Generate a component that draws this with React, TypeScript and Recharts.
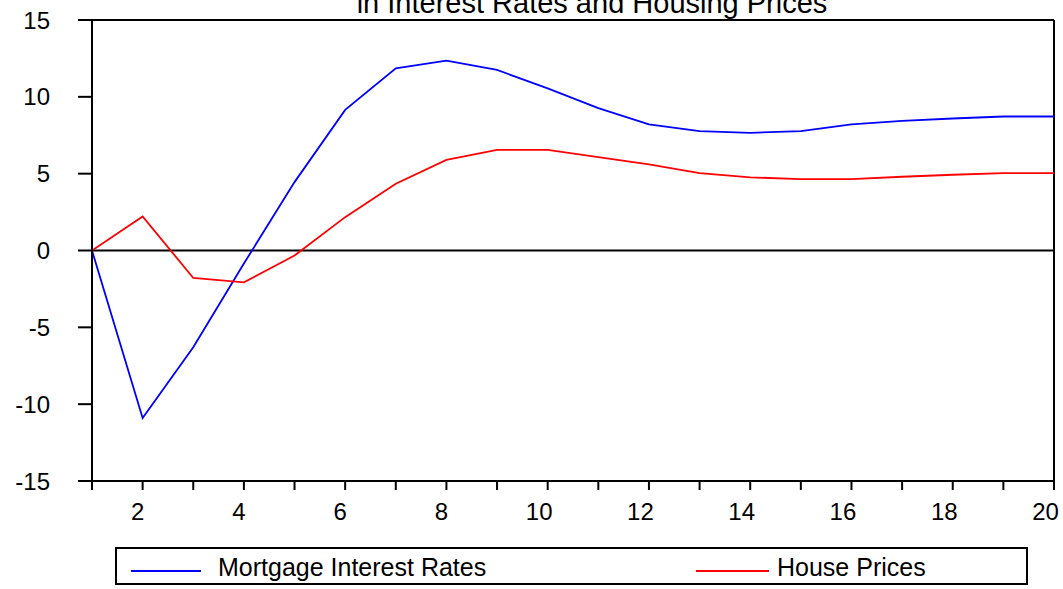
import { LineChart, Line, XAxis, YAxis, ReferenceLine } from 'recharts'

const periods = [1, 2, 3, 4, 5, 6, 7, 8, 9, 10, 11, 12, 13, 14, 15, 16, 17, 18, 19, 20]
const mortgageRates = [0, -10.9, -6.3, -0.85, 4.45, 9.15, 11.86, 12.36, 11.75, 10.55, 9.26, 8.21, 7.77, 7.66, 7.77, 8.21, 8.43, 8.59, 8.72, 8.72]
const housePrices = [0, 2.22, -1.79, -2.07, -0.33, 2.17, 4.34, 5.9, 6.55, 6.55, 6.07, 5.6, 5.04, 4.76, 4.65, 4.65, 4.8, 4.93, 5.04, 5.04]
const yTicks = [-15, -10, -5, 0, 5, 10, 15]
const title = 'in Interest Rates and Housing Prices'

const series = [
  { key: 'mortgage', name: 'Mortgage Interest Rates', color: '#0000FF' },
  { key: 'house', name: 'House Prices', color: '#FF0000' },
]

const FONT = '"Liberation Sans", Arial, sans-serif'

const data = periods.map((p, i) => ({
  period: p,
  mortgage: mortgageRates[i],
  house: housePrices[i],
}))

const legendPos = [
  { line: 14, lineW: 70, text: 101 },
  { line: 579, lineW: 73, text: 660 },
]

// the source draws even labels a bit left of their tick
const XTick = (props: any) => {
  const { x, y, payload } = props
  const v = payload?.value
  if (v % 2 !== 0) return null
  const label = String(v)
  const shift = label.length > 1 ? -8.5 : -5
  return (
    <text x={x + shift} y={y} dy="0.71em" textAnchor="middle" fill="#000" fontSize={24} fontFamily={FONT}>
      {label}
    </text>
  )
}

export default function App() {
  return (
    <div style={{ position: 'absolute', left: 0, top: 0, width: 1063, height: 589, background: '#fff', fontFamily: FONT, overflow: 'hidden' }}>
      <div
        style={{
          position: 'absolute',
          left: 292,
          top: -11.5,
          width: 600,
          textAlign: 'center',
          fontSize: 29,
          lineHeight: 1,
          color: '#000',
          whiteSpace: 'nowrap',
        }}
      >
        {title}
      </div>
      <LineChart width={1063} height={589} data={data} margin={{ top: 20, right: 9, bottom: 68, left: 0 }}>
        <XAxis
          dataKey="period"
          type="number"
          domain={[1, 20]}
          ticks={periods}
          interval={0}
          allowDataOverflow
          height={40}
          tickSize={9}
          tickMargin={13}
          axisLine={{ stroke: '#000', strokeWidth: 2 }}
          tickLine={{ stroke: '#000', strokeWidth: 2 }}
          tick={<XTick />}
        />
        <YAxis
          type="number"
          domain={[-15, 15]}
          ticks={yTicks}
          interval={0}
          width={92}
          tickSize={14}
          tickMargin={28}
          axisLine={{ stroke: '#000', strokeWidth: 2 }}
          tickLine={{ stroke: '#000', strokeWidth: 2 }}
          tick={{ fill: '#000', fontSize: 24, fontFamily: FONT }}
        />
        <ReferenceLine y={0} stroke="#000" strokeWidth={2} />
        <ReferenceLine y={15} stroke="#000" strokeWidth={2} />
        <ReferenceLine x={20} stroke="#000" strokeWidth={2} />
        {series.map((s) => (
          <Line
            key={s.key}
            dataKey={s.key}
            name={s.name}
            type="linear"
            stroke={s.color}
            strokeWidth={1.8}
            dot={false}
            activeDot={false}
            isAnimationActive={false}
          />
        ))}
      </LineChart>
      <div
        style={{
          position: 'absolute',
          left: 115,
          top: 547,
          width: 913,
          height: 38,
          border: '2px solid #000',
          boxSizing: 'border-box',
        }}
      >
        {series.map((s, i) => (
          <div key={s.key}>
            <div
              style={{
                position: 'absolute',
                left: legendPos[i].line,
                top: 21,
                width: legendPos[i].lineW,
                height: 2,
                background: s.color,
              }}
            />
            <div
              style={{
                position: 'absolute',
                left: legendPos[i].text,
                top: 6,
                fontSize: 25,
                lineHeight: 1,
                color: '#000',
                whiteSpace: 'nowrap',
              }}
            >
              {s.name}
            </div>
          </div>
        ))}
      </div>
    </div>
  )
}
